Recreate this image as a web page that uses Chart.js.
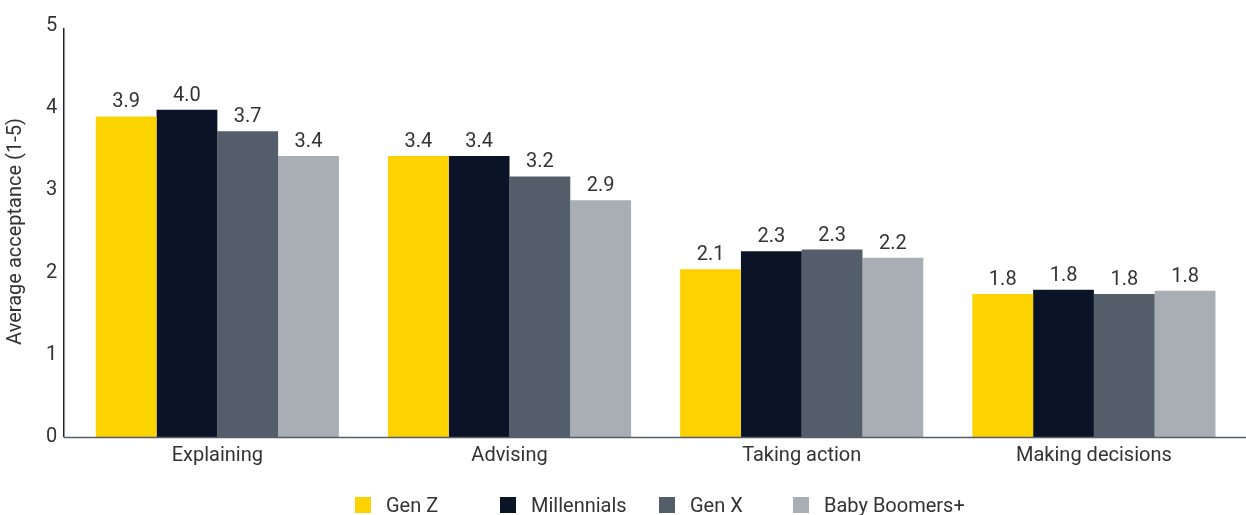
<!DOCTYPE html>
<html>
<head>
<meta charset="utf-8">
<script src="https://cdn.jsdelivr.net/npm/chart.js@4"></script>
<style>
  html, body { margin: 0; padding: 0; background: #fff; }
  #wrap { position: relative; width: 1246px; height: 515px; }
  #legend { position: absolute; left: 355px; top: 493px; display: flex; font-family: Roboto; font-size: 20px; color: #333; }
  #legend .item { display: flex; align-items: center; }
  #legend .box { width: 16px; height: 16px; margin-right: 15px; }
</style>
</head>
<body>
<div id="wrap">
  <canvas id="chart"></canvas>
  <div id="legend"></div>
</div>
<script>
// --- data ---
const categories = ['Explaining', 'Advising', 'Taking action', 'Making decisions'];
const genZ = [3.90, 3.42, 2.04, 1.74];
const millennials = [3.98, 3.42, 2.26, 1.79];
const genX = [3.72, 3.17, 2.28, 1.74];
const boomers = [3.42, 2.88, 2.18, 1.78];
// printed labels (as shown in the source)
const genZLabels = ['3.9', '3.4', '2.1', '1.8'];
const millennialsLabels = ['4.0', '3.4', '2.3', '1.8'];
const genXLabels = ['3.7', '3.2', '2.3', '1.8'];
const boomersLabels = ['3.4', '2.9', '2.2', '1.8'];
const yTicks = [0, 1, 2, 3, 4, 5];

const FONT = 'Roboto';
const TEXT = '#333333';

// value labels above bars
const valueLabels = {
    id: 'valueLabels',
    afterDatasetsDraw(chart) {
        const ctx = chart.ctx;
        ctx.save();
        ctx.font = `20px ${FONT}`;
        ctx.fillStyle = TEXT;
        ctx.textAlign = 'center';
        ctx.textBaseline = 'bottom';
        chart.data.datasets.forEach((ds, i) => {
            chart.getDatasetMeta(i).data.forEach((bar, j) => {
                ctx.fillText(ds.printed[j], bar.x, bar.y - 4);
            });
        });
        ctx.restore();
    }
};

// axis lines: y axis sits a bit left of the first group, x axis runs to the edge
const axisLines = {
    id: 'axisLines',
    afterDraw(chart) {
        const { ctx, chartArea } = chart;
        const x0 = chartArea.left - 7.5;
        ctx.save();
        ctx.strokeStyle = '#1a2233';
        ctx.lineWidth = 1.5;
        ctx.beginPath();
        ctx.moveTo(x0, chartArea.top + 2);
        ctx.lineTo(x0, chartArea.bottom);
        ctx.stroke();
        ctx.strokeStyle = '#555e6a';
        ctx.beginPath();
        ctx.moveTo(x0, chartArea.bottom + 0.5);
        ctx.lineTo(chart.width, chartArea.bottom + 0.5);
        ctx.stroke();
        ctx.restore();
    }
};

const mk = (label, data, printed, color) => ({
    label, data, printed,
    backgroundColor: color,
    borderWidth: 0,
    categoryPercentage: 0.832,
    barPercentage: 1.0
});

const chart = new Chart(document.getElementById('chart'), {
    type: 'bar',
    data: {
        labels: categories,
        datasets: [
            mk('Gen Z', genZ, genZLabels, '#fcd200'),
            mk('Millennials', millennials, millennialsLabels, '#0a1426'),
            mk('Gen X', genX, genXLabels, '#545e6a'),
            mk('Baby Boomers+', boomers, boomersLabels, '#a8aeb4')
        ]
    },
    options: {
        responsive: true,
        maintainAspectRatio: false,
        animation: false,
        layout: { padding: { top: -6, right: 6, left: 2, bottom: 40 } },
        plugins: {
            legend: { display: false },
            tooltip: { enabled: false }
        },
        scales: {
            x: {
                grid: { display: false, drawTicks: false },
                border: { display: false },
                ticks: { color: TEXT, font: { family: FONT, size: 20 }, padding: 7 }
            },
            y: {
                min: 0,
                max: 5,
                afterBuildTicks: (axis) => { axis.ticks = yTicks.map(v => ({ value: v })); },
                grid: { display: false, drawTicks: false },
                border: { display: false },
                ticks: { color: TEXT, font: { family: FONT, size: 20 }, padding: 14 },
                title: {
                    display: true,
                    text: 'Average acceptance (1-5)',
                    color: TEXT,
                    font: { family: FONT, size: 20 },
                    padding: { top: 2, bottom: 4 }
                }
            }
        }
    },
    plugins: [valueLabels, axisLines]
});

// --- legend (html, spaced like the source) ---
const legendWidths = [145, 159, 134, null];
const legendEl = document.getElementById('legend');
chart.data.datasets.forEach((ds, i) => {
    const item = document.createElement('div');
    item.className = 'item';
    if (legendWidths[i]) item.style.width = legendWidths[i] + 'px';
    const box = document.createElement('span');
    box.className = 'box';
    box.style.background = ds.backgroundColor;
    const txt = document.createElement('span');
    txt.textContent = ds.label;
    item.appendChild(box);
    item.appendChild(txt);
    legendEl.appendChild(item);
});
</script>
</body>
</html>
